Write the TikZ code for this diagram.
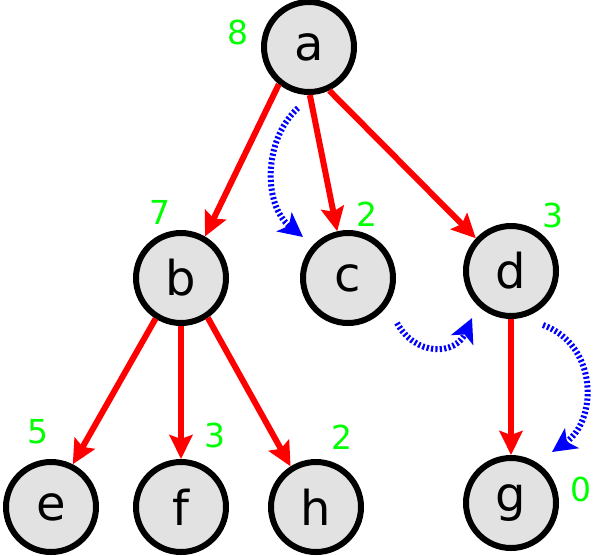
\documentclass[tikz,border=0pt]{standalone}
\usepackage{fontspec}
\setmainfont{DejaVu Sans}
\usetikzlibrary{arrows.meta}

\begin{document}
\begin{tikzpicture}[x=1pt, y=-1pt,
	vertex/.style={circle, draw, line width=6pt, fill={rgb,255:red,226;green,226;blue,226}, minimum size=90pt, inner sep=0pt, font=\fontsize{48}{48}\selectfont},
	dist/.style={text=green, font=\fontsize{33}{33}\selectfont, inner sep=0pt},
	treeedge/.style={red, line width=6pt, -{Stealth[length=24pt, width=23pt, inset=4pt]}},
	visit/.style={blue, line width=6pt, dash pattern=on 2.2pt off 2.2pt, -{Stealth[length=24pt, width=24pt, inset=6pt]}}]
	\useasboundingbox (0,0) rectangle (593,555);
	\node[vertex] (a) at (309,47) {a};
	\node[vertex] (b) at (181,278) {b};
	\node[vertex] (c) at (348,278) {c};
	\node[vertex] (d) at (511,271) {d};
	\node[vertex] (e) at (51,507) {e};
	\node[vertex] (f) at (181,507) {f};
	\node[vertex] (h) at (316,507) {h};
	\node[vertex] (g) at (511,503) {g};
	\node[dist] (da) at (238,32) {8};
	\node[dist] (db) at (160,212) {7};
	\node[dist] (dc) at (367,214) {2};
	\node[dist] (dd) at (553,215) {3};
	\node[dist] (de) at (38,432) {5};
	\node[dist] (df) at (215,435) {3};
	\node[dist] (dh) at (342,437) {2};
	\node[dist] (dg) at (581,489) {0};
	\draw[treeedge] (a.231) -- (b.60);
	\draw[treeedge] (a.271) -- (c.103);
	\draw[treeedge] (a.295) -- (d.137);
	\draw[treeedge] (b.238) -- (e.63);
	\draw[treeedge] (b.270) -- (f.90);
	\draw[treeedge] (b.304) -- (h.122);
	\draw[treeedge] (d.270) -- (g.90);
	\coordinate (v1s) at (298,108);
	\coordinate (v1t) at (303,237);
	\coordinate (v2s) at (397,323);
	\coordinate (v2t) at (472,318);
	\coordinate (v3s) at (543,325);
	\coordinate (v3t) at (552,452);
	\draw[visit] (v1s) .. controls (263,140) and (263,205) .. (v1t);
	\draw[visit] (v2s) .. controls (415,356) and (455,356) .. (v2t);
	\draw[visit] (v3s) .. controls (598,345) and (598,420) .. (v3t);
\end{tikzpicture}
\end{document}
